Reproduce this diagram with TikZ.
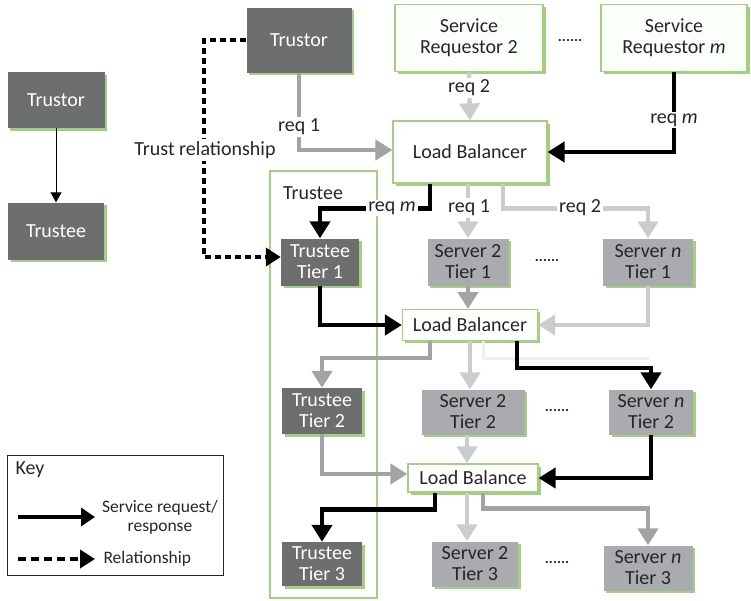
\documentclass[tikz,border=0pt]{standalone}
\usepackage{fontspec}
\setmainfont{Carlito}
\usetikzlibrary{arrows.meta,shadows,calc}
\definecolor{dk}{HTML}{6D6E70}
\definecolor{md}{HTML}{A9ABAE}
\definecolor{gr}{HTML}{A3CF82}
\definecolor{gl}{HTML}{CBCCCD}
\definecolor{gm}{HTML}{A2A3A5}
\definecolor{tx}{HTML}{262626}
\begin{document}
\begin{tikzpicture}[x=1pt,y=-1pt,
  font=\fontsize{20}{21}\selectfont,
  gshadow/.style={general shadow={fill=gr, shadow xshift=2.5pt, shadow yshift=-2.5pt}},
  dbox/.style={gshadow, fill=dk, text=white, align=center, inner sep=0pt},
  sbox/.style={gshadow, fill=md, text=tx, align=center, inner sep=0pt},
  wbox/.style={gshadow, fill=white, draw=gr, line width=1.2pt, text=tx, align=center, inner sep=0pt},
  lab/.style={fill=white, text=tx, inner sep=2pt},
  dots/.style={text=tx, font=\fontsize{15}{16}\selectfont\bfseries},
  tip/.style={-{Triangle[length=17pt,width=20pt]}},
  blk/.style={tip, line width=4.3pt, draw=black},
  gmid/.style={tip, line width=4.3pt, draw=gm},
  glt/.style={tip, line width=4.3pt, draw=gl},
  rel/.style={-{Triangle[length=15pt,width=18pt]}, line width=4.3pt, dash pattern=on 6pt off 4pt},
]
\useasboundingbox (0,0) rectangle (751,600);

% container
\draw[gr, line width=1.2pt] (270,171) rectangle (377,598);
\node[text=tx, anchor=center] (tlab) at (313,193) {Trustee};

% left small diagram
\node[dbox, minimum width=97, minimum height=56] (lTr) at (56,100) {Trustor};
\node[dbox, minimum width=96, minimum height=57] (lTe) at (56,231) {Trustee};
\draw[line width=1pt, -{Triangle[length=10pt,width=11pt]}] (lTr.south) -- (lTe.north);

% top row
\node[dbox, minimum width=105, minimum height=65] (Tr) at (299,40) {Trustor};
\node[wbox, minimum width=148, minimum height=67, fill=green!2] (SR2) at (469,38) {Service\\Requestor 2};
\node[wbox, minimum width=146, minimum height=67, fill=green!2] (SRm) at (674,38) {Service\\Requestor \textit{m}};
\node[dots] (d0) at (570,40) {......};

\node[wbox, minimum width=154, minimum height=62] (LBa) at (470,152) {Load Balancer};

% tier 1
\node[dbox, minimum width=78, minimum height=47] (T1) at (320,262) {Trustee\\Tier 1};
\node[sbox, minimum width=81, minimum height=47] (S2a) at (468,262) {Server 2\\Tier 1};
\node[sbox, minimum width=90, minimum height=47] (Sna) at (648,262) {Server \textit{n}\\Tier 1};
\node[dots] (d1) at (547,260) {......};

\node[wbox, minimum width=135, minimum height=31] (LBb) at (470,325) {Load Balancer};

% tier 2
\node[dbox, minimum width=80, minimum height=46] (T2) at (322,411) {Trustee\\Tier 2};
\node[sbox, minimum width=103, minimum height=45] (S2b) at (473,412) {Server 2\\Tier 2};
\node[sbox, minimum width=84, minimum height=45] (Snb) at (651,412) {Server \textit{n}\\Tier 2};
\node[dots] (d2) at (557,410) {......};

\node[wbox, minimum width=130, minimum height=28] (LBc) at (473,478) {Load Balance};

% tier 3
\node[dbox, minimum width=80, minimum height=44] (T3) at (322,564) {Trustee\\Tier 3};
\node[sbox, minimum width=86, minimum height=45] (S2c) at (475,564) {Server 2\\Tier 3};
\node[sbox, minimum width=89, minimum height=45] (Snc) at (648,568) {Server \textit{n}\\Tier 3};
\node[dots] (d3) at (557,562) {......};

% trust relationship
\draw[rel] (Tr.west) -- ++(-42,0) |- ([yshift=5pt]T1.west);
\node[lab] (trl) at (205,150) {Trust relationship};

% requests to LB a
\draw[gmid] (Tr.south) |- ([yshift=2pt]LBa.west);
\node[lab] (r1) at (299,127) {req 1};
\draw[glt] (SR2.south) -- (LBa.north);
\node[lab] (r2) at (469,88) {req 2};
\draw[blk] (SRm.south) |- (LBa.east);
\node[lab] (rm) at (674,120) {req \textit{m}};

% LB a to tier 1
\draw[blk] ([xshift=-40pt]LBa.south) -- ++(0,25) -| (T1.north);
\node[lab] (rm2) at (392,208) {req \textit{m}};
\draw[glt] (LBa.south -| S2a.north) -- (S2a.north);
\node[lab] (r12) at (469,208) {req 1};
\draw[glt] ([xshift=33pt]LBa.south) -- ++(0,25) -| (Sna.north);
\node[lab] (r22) at (580,208) {req 2};

% tier 1 to LB b
\draw[blk] (T1.south) |- (LBb.west);
\draw[gmid] (S2a.south) -- (S2a.south |- LBb.north);
\draw[glt] (Sna.south) |- (LBb.east);

% LB b to tier 2
\draw[line width=3pt, draw=gray!12] ([xshift=13pt]LBb.south) -- ++(0,17) -- ++(166,0);
\draw[gmid] ([xshift=-40pt]LBb.south) -- ++(0,17) -| (T2.north);
\draw[glt] (LBb.south) -- (LBb.south |- S2b.north);
\draw[blk] ([xshift=47pt]LBb.south) -- ++(0,27) -| (Snb.north);

% tier 2 to LB c
\draw[gmid] (T2.south) |- ([yshift=4pt]LBc.west);
\draw[glt] ([xshift=-6pt]S2b.south) -- ([xshift=-6pt]LBc.north);
\draw[blk] (Snb.south) |- (LBc.east);

% LB c to tier 3
\draw[blk] ([xshift=-38pt]LBc.south) -- ++(0,17) -| (T3.north);
\draw[glt] ([xshift=-6pt]LBc.south) -- ([xshift=-6pt]LBc.south |- S2c.north);
\draw[gmid] ([xshift=10pt]LBc.south) -- ++(0,16) -| (Snc.north);

% key
\draw[tx, line width=1pt] (7,455) rectangle (223,575);
\node[text=tx, anchor=west] (key) at (12,470) {Key};
\coordinate (k1a) at (18,517);
\coordinate (k1b) at (95,517);
\draw[blk, -{Triangle[length=14pt,width=18pt]}] (k1a) -- (k1b);
\node[text=tx, align=center, font=\fontsize{17.5}{19}\selectfont] (k1t) at (160,517) {Service request/\\response};
\coordinate (k2a) at (18,559);
\coordinate (k2b) at (95,559);
\draw[rel, dash pattern=on 8pt off 5pt] (k2a) -- (k2b);
\node[text=tx, anchor=west, font=\fontsize{17.5}{19}\selectfont] (k2t) at (100,559) {Relationship};
\end{tikzpicture}
\end{document}
